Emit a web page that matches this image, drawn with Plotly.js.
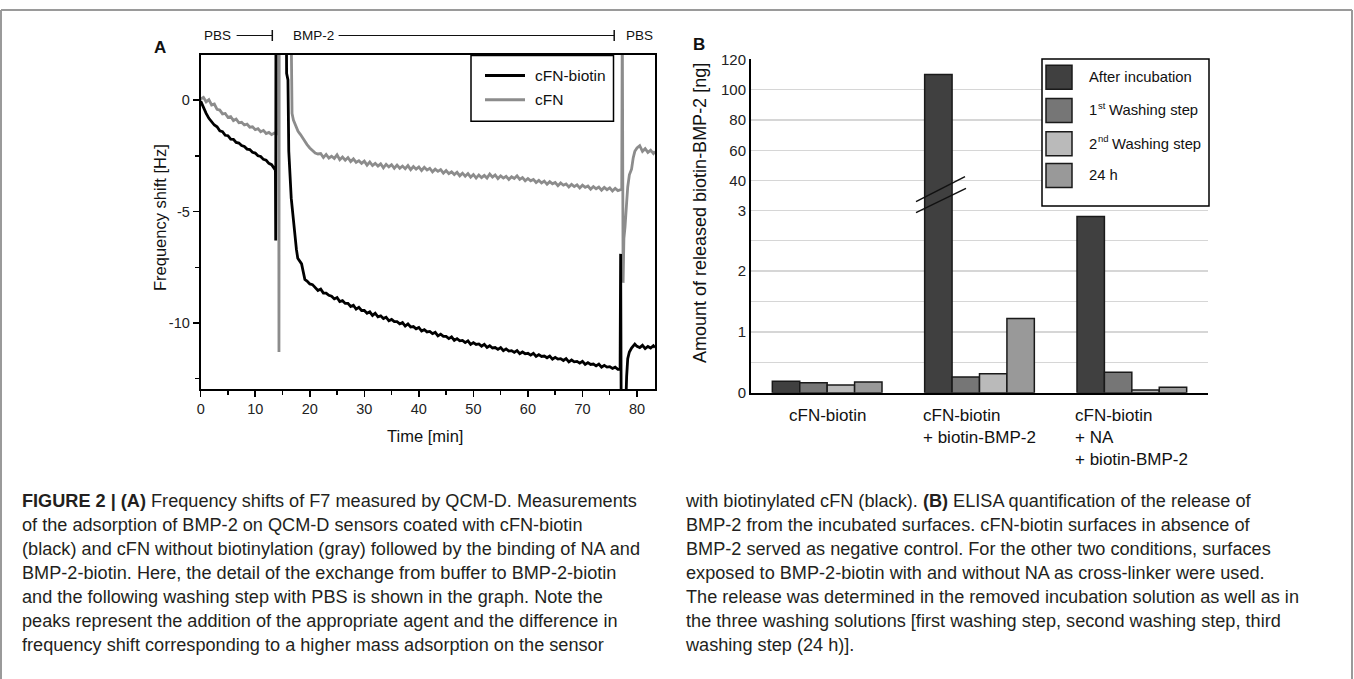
<!DOCTYPE html>
<html>
<head>
<meta charset="utf-8">
<script src="https://cdn.plot.ly/plotly-3.0.1.min.js"></script>
<style>
  html, body { margin: 0; padding: 0; background: #fff; }
  #wrap { position: relative; width: 1354px; height: 679px; overflow: hidden; }
  #chart { position: absolute; left: 0; top: 0; width: 1354px; height: 679px; }
  .cap { position: absolute; font-family: "Liberation Sans", Arial, sans-serif; font-size: 17.5px;
         line-height: 24px; color: #231f20; white-space: nowrap; transform-origin: 0 0; }
</style>
</head>
<body>
<div id="wrap">
  <div id="chart"></div>
  <div class="cap" id="capL"></div>
  <div class="cap" id="capR"></div>
</div>
<script>
// ---------------- Panel A data (QCM-D frequency shift, F7) ----------------
const grayT = [0,0.5,1,1.5,2,2.5,3,3.5,4,4.5,5,5.5,6,6.5,7,7.5,8,8.5,9,9.5,10,10.5,11,11.5,12,12.5,13,13.5,14.1,
  14.25,14.3,14.35,14.4,16.55,16.65,16.75,17,17.4,17.85,18.3,18.7,19.1,19.5,20,20.5,21,21.5,
  22,22.5,23,23.5,24,24.5,25,25.5,26,26.5,27,27.5,28,28.5,29,29.5,30,30.5,31,31.5,32,32.5,33,33.5,34,34.5,35,35.5,
  36,36.5,37,37.5,38,38.5,39,39.5,40,40.5,41,41.5,42,42.5,43,43.5,44,44.5,45,45.5,46,46.5,47,47.5,48,48.5,49,49.5,
  50,50.5,51,51.5,52,52.5,53,53.5,54,54.5,55,55.5,56,56.5,57,57.5,58,58.5,59,59.5,60,60.5,61,61.5,62,62.5,63,63.5,
  64,64.5,65,65.5,66,66.5,67,67.5,68,68.5,69,69.5,70,70.5,71,71.5,72,72.5,73,73.5,74,74.5,75,75.5,76,76.5,77,
  77.2,77.3,77.45,77.6,77.8,78.1,78.3,78.6,79,79.3,79.6,80,80.5,81,81.5,82,82.5,83,83.3];
const grayF = [0.05,0.12,-0.08,0.02,-0.22,-0.18,-0.42,-0.45,-0.62,-0.6,-0.78,-0.74,-0.92,-0.85,-1.02,-1.0,-1.12,-1.08,-1.22,-1.2,-1.33,-1.28,-1.42,-1.36,-1.5,-1.45,-1.55,-1.48,-1.52,
  -1.5,4,-11.3,4,4,0.4,-0.6,-0.9,-1.15,-1.4,-1.55,-1.72,-1.85,-2.0,-2.15,-2.25,-2.38,-2.42,
  -2.4,-2.58,-2.44,-2.6,-2.52,-2.62,-2.46,-2.68,-2.56,-2.7,-2.58,-2.76,-2.64,-2.8,-2.72,-2.84,-2.74,-2.92,-2.78,-2.94,-2.84,-2.96,-2.86,-3.04,-2.88,-3.0,-2.9,-3.06,
  -2.92,-3.06,-2.96,-3.08,-2.94,-3.12,-2.98,-3.1,-3.0,-3.16,-3.02,-3.14,-3.06,-3.22,-3.1,-3.2,-3.12,-3.28,-3.16,-3.3,-3.22,-3.34,-3.24,-3.4,-3.28,-3.42,-3.3,-3.46,
  -3.34,-3.5,-3.36,-3.48,-3.38,-3.5,-3.32,-3.46,-3.36,-3.52,-3.4,-3.5,-3.42,-3.56,-3.44,-3.52,-3.4,-3.56,-3.48,-3.62,-3.52,-3.62,-3.56,-3.7,-3.6,-3.72,-3.64,-3.78,
  -3.66,-3.76,-3.7,-3.84,-3.72,-3.82,-3.76,-3.9,-3.78,-3.88,-3.8,-3.94,-3.82,-3.92,-3.86,-4.0,-3.88,-3.98,-3.9,-4.04,-3.92,-4.02,-3.94,-4.08,-3.96,-4.06,-4.0,
  -4.0,4,-8.2,-6.2,-5.7,-4.6,-3.9,-3.35,-3.1,-2.6,-2.3,-2.15,-2.05,-2.3,-2.18,-2.35,-2.25,-2.4,-2.3];

const blackT = [0,0.5,1,1.5,2,2.5,3,3.5,4,4.5,5,5.5,6,6.5,7,7.5,8,8.5,9,9.5,10,10.5,11,11.5,12,12.5,13,13.5,
  13.7,13.75,13.8,15.7,15.75,16,16.1,16.15,16.6,17.1,17.55,17.8,18.2,18.5,18.8,19.1,19.5,20,20.5,
  21,21.5,22,22.5,23,23.5,24,24.5,25,25.5,26,26.5,27,27.5,28,28.5,29,29.5,30,30.5,31,31.5,32,32.5,33,33.5,34,34.5,
  35,35.5,36,36.5,37,37.5,38,38.5,39,39.5,40,40.5,41,41.5,42,42.5,43,43.5,44,44.5,45,45.5,46,46.5,47,47.5,48,48.5,
  49,49.5,50,50.5,51,51.5,52,52.5,53,53.5,54,54.5,55,55.5,56,56.5,57,57.5,58,58.5,59,59.5,60,60.5,61,61.5,62,62.5,
  63,63.5,64,64.5,65,65.5,66,66.5,67,67.5,68,68.5,69,69.5,70,70.5,71,71.5,72,72.5,73,73.5,74,74.5,75,75.5,76,76.5,
  76.9,77.0,77.1,77.9,78.1,78.3,78.6,79,79.6,80,80.5,81,81.5,82,82.5,83,83.3];
const blackF = [-0.05,-0.35,-0.6,-0.82,-0.95,-1.12,-1.2,-1.38,-1.42,-1.58,-1.6,-1.75,-1.76,-1.9,-1.93,-2.04,-2.08,-2.2,-2.22,-2.34,-2.38,-2.5,-2.53,-2.66,-2.7,-2.84,-2.9,-3.05,
  -3.15,-6.3,4,4,1.2,0.9,-0.9,-2.3,-4.4,-5.8,-6.7,-7.1,-7.25,-7.35,-7.7,-8.05,-8.12,-8.25,-8.28,
  -8.4,-8.54,-8.48,-8.66,-8.66,-8.76,-8.8,-8.92,-8.86,-9.04,-9.0,-9.12,-9.12,-9.26,-9.2,-9.38,-9.3,-9.44,-9.44,-9.56,-9.5,-9.66,-9.56,-9.72,-9.68,-9.8,-9.74,-9.9,
  -9.84,-9.94,-9.94,-10.04,-9.98,-10.14,-10.04,-10.18,-10.16,-10.26,-10.2,-10.36,-10.3,-10.4,-10.38,-10.48,-10.42,-10.58,-10.5,-10.6,-10.6,-10.7,-10.62,-10.78,-10.7,-10.8,-10.78,-10.88,
  -10.8,-10.96,-10.88,-10.96,-10.94,-11.04,-10.96,-11.1,-11.02,-11.12,-11.1,-11.18,-11.1,-11.24,-11.16,-11.26,-11.24,-11.32,-11.24,-11.38,-11.3,-11.38,-11.36,-11.44,-11.36,-11.5,-11.42,-11.5,
  -11.48,-11.56,-11.48,-11.62,-11.54,-11.62,-11.6,-11.68,-11.6,-11.74,-11.66,-11.74,-11.72,-11.8,-11.72,-11.86,-11.78,-11.86,-11.84,-11.92,-11.84,-11.98,-11.9,-11.98,-11.96,-12.04,-11.98,-12.08,
  -12.08,-6.9,-14,-14,-12.4,-11.6,-11.3,-11.12,-10.95,-11.05,-11.1,-11.0,-11.15,-11.05,-11.12,-11.02,-11.1];

const xTickVals = [0,10,20,30,40,50,60,70,80];
const yTickVals = [0,-5,-10];
const yTickText = ['0','-5','-10'];
const lineNames = ['cFN-biotin','cFN'];
const phaseLabels = ['PBS','BMP-2','PBS'];

// ---------------- Panel B data (ELISA, released biotin-BMP-2 [ng]) ----------------
const categories = ['cFN-biotin','cFN-biotin + biotin-BMP-2','cFN-biotin + NA + biotin-BMP-2'];
const categoryLines = [['cFN-biotin'],['cFN-biotin','+ biotin-BMP-2'],['cFN-biotin','+ NA','+ biotin-BMP-2']];
const seriesNames = ['After incubation','1st Washing step','2nd Washing step','24 h'];
// legend label pieces: [main, superscript, rest]
const legendParts = [['After incubation','',''],['1','st','Washing step'],['2','nd','Washing step'],['24 h','','']];
const afterIncubation = [0.19, 110, 2.9];
const washing1 = [0.165, 0.26, 0.335];
const washing2 = [0.127, 0.31, 0.045];
const after24h = [0.176, 1.22, 0.09];
const lowTickVals = [0,1,2,3];
const lowMinorGrid = [0.5,1.5,2.5];
const highTickVals = [40,60,80,100,120];

const captionLeft = [
  '<b>FIGURE 2 | (A)</b> Frequency shifts of F7 measured by QCM-D. Measurements',
  'of the adsorption of BMP-2 on QCM-D sensors coated with cFN-biotin',
  '(black) and cFN without biotinylation (gray) followed by the binding of NA and',
  'BMP-2-biotin. Here, the detail of the exchange from buffer to BMP-2-biotin',
  'and the following washing step with PBS is shown in the graph. Note the',
  'peaks represent the addition of the appropriate agent and the difference in',
  'frequency shift corresponding to a higher mass adsorption on the sensor'];
const captionRight = [
  'with biotinylated cFN (black). <b>(B)</b> ELISA quantification of the release of',
  'BMP-2 from the incubated surfaces. cFN-biotin surfaces in absence of',
  'BMP-2 served as negative control. For the other two conditions, surfaces',
  'exposed to BMP-2-biotin with and without NA as cross-linker were used.',
  'The release was determined in the removed incubation solution as well as in',
  'the three washing solutions [first washing step, second washing step, third',
  'washing step (24 h)].'];

// ---------------- styling ----------------
const W = 1354, H = 679;
const X = v => v / W;
const Y = v => 1 - v / H;
const FONT = 'Liberation Sans, Arial, sans-serif';
const lineColors = ['#000000', '#8c8c8c'];
const barColors = ['#404040', '#767676', '#bababa', '#999999'];
const barSeries = [afterIncubation, washing1, washing2, after24h];

const ctx = document.createElement('canvas').getContext('2d');
function textW(t, size) { ctx.font = size + 'px "Liberation Sans", Arial, sans-serif'; return ctx.measureText(t).width; }

const traces = [];
traces.push({x: grayT, y: grayF, type: 'scatter', mode: 'lines', name: lineNames[1],
  line: {color: lineColors[1], width: 2.8}, xaxis: 'x', yaxis: 'y', showlegend: false});
traces.push({x: blackT, y: blackF, type: 'scatter', mode: 'lines', name: lineNames[0],
  line: {color: lineColors[0], width: 2.8}, xaxis: 'x', yaxis: 'y', showlegend: false});
['y2','y3'].forEach(ya => {
  barSeries.forEach((vals, i) => {
    traces.push({x: categories, y: vals, type: 'bar', name: seriesNames[i], xaxis: 'x2', yaxis: ya,
      marker: {color: barColors[i], line: {color: '#1a1a1a', width: 1.5}}, showlegend: false,
      hoverinfo: 'skip'});
  });
});

const shapes = [];
const annotations = [];
function pline(x0, y0, x1, y1, color, width) {
  shapes.push({type: 'line', xref: 'paper', yref: 'paper', x0: X(x0), y0: Y(y0), x1: X(x1), y1: Y(y1),
    line: {color: color, width: width}, layer: 'above'});
}
function prect(x0, y0, x1, y1, fill, lc, lw) {
  shapes.push({type: 'rect', xref: 'paper', yref: 'paper', x0: X(x0), y0: Y(y0), x1: X(x1), y1: Y(y1),
    fillcolor: fill, line: {color: lc, width: lw}, layer: 'above'});
}
function ptext(text, x, y, size, opts) {
  annotations.push(Object.assign({text: text, xref: 'paper', yref: 'paper', x: X(x), y: Y(y),
    showarrow: false, xanchor: 'center', yanchor: 'middle', font: {family: FONT, size: size, color: '#111'}}, opts || {}));
}

// frame
pline(1, 10, 1352, 10, '#9a9a9a', 2);
pline(1, 10, 1, 679, '#9a9a9a', 2);
pline(1352, 10, 1352, 679, '#9a9a9a', 2);

// panel letters
ptext('<b>A</b>', 160, 48, 17);
ptext('<b>B</b>', 699, 45, 17);

// Panel A phase header
ptext(phaseLabels[0], 202, 35.5, 13.5, {xanchor: 'left'});
pline(236.6, 35.5, 272.3, 35.5, '#111', 1.2);
pline(272.3, 30, 272.3, 41, '#111', 1.5);
ptext(phaseLabels[1], 291, 35.5, 13.5, {xanchor: 'left'});
pline(338.6, 35.5, 614.2, 35.5, '#111', 1.2);
pline(614.2, 30, 614.2, 41, '#111', 1.5);
ptext(phaseLabels[2], 624, 35.5, 13.5, {xanchor: 'left'});

// Panel A axis titles
ptext('Frequency shift [Hz]', 160, 218, 16.5, {textangle: -90});
ptext('Time [min]', 425, 436, 16.5);

// Panel A legend
prect(471, 55.5, 613.5, 121.3, '#ffffff', '#000', 1.5);
pline(485, 75.6, 525, 75.6, lineColors[0], 3);
pline(485, 99.7, 525, 99.7, lineColors[1], 3);
ptext(lineNames[0], 533, 75.6, 15.5, {xanchor: 'left'});
ptext(lineNames[1], 533, 99.7, 15.5, {xanchor: 'left'});

// Panel B axis title
ptext('Amount of released biotin-BMP-2 [ng]', 700, 213, 18, {textangle: -90});

// Panel B axis break marks
pline(916, 201.7, 965, 176.7, '#111', 1.5);
pline(916, 212.7, 966, 188.3, '#111', 1.5);

// Panel B legend
prect(1042, 59, 1209, 206, '#ffffff', '#000', 1.5);
const rowY = [77.2, 110.5, 143.8, 175.5];
const LFS = 14.8, SFS = 9.5;
legendParts.forEach((p, i) => {
  prect(1046, rowY[i] - 12, 1072, rowY[i] + 12, barColors[i], '#1a1a1a', 1.5);
  let x = 1087;
  ptext(p[0], x, rowY[i], LFS, {xanchor: 'left'});
  if (p[1]) {
    x += textW(p[0], LFS) + 0.5;
    ptext(p[1], x, rowY[i] - 5, SFS, {xanchor: 'left'});
    x += textW(p[1], SFS) + textW(' ', LFS);
    ptext(p[2], x, rowY[i], LFS, {xanchor: 'left'});
  }
});

// Panel B category labels
categories.forEach((c, i) => {
  annotations.push({text: categoryLines[i].join('<br>'), xref: 'x2', yref: 'paper', x: c, y: Y(404),
    xanchor: 'center', yanchor: 'top', align: 'left', showarrow: false,
    font: {family: FONT, size: 17, color: '#111'}});
});

const axisLine = {showline: true, linecolor: '#000', linewidth: 2, zeroline: false, fixedrange: true};
const layout = {
  width: W, height: H, margin: {l: 0, r: 0, t: 0, b: 0},
  paper_bgcolor: '#ffffff', plot_bgcolor: 'rgba(0,0,0,0)', showlegend: false,
  font: {family: FONT, color: '#111'},
  barmode: 'group', bargap: 0.28, bargroupgap: 0,
  xaxis: Object.assign({}, axisLine, {domain: [X(200.7), X(655)], anchor: 'y', range: [0, 83.3], mirror: true,
    ticks: 'outside', ticklen: 6, tickwidth: 1.5, tickcolor: '#000', tickvals: xTickVals, showgrid: false,
    tickfont: {family: FONT, size: 14.5, color: '#222'},
    minor: {ticks: 'outside', ticklen: 3.5, tickwidth: 1.5, tickcolor: '#000', tickvals: [5,15,25,35,45,55,65,75], showgrid: false}}),
  yaxis: Object.assign({}, axisLine, {domain: [Y(389), Y(55)], anchor: 'x', range: [-12.96, 2.02], mirror: true,
    ticks: 'outside', ticklen: 6, tickwidth: 1.5, tickcolor: '#000', tickvals: yTickVals, ticktext: yTickText, showgrid: false,
    tickfont: {family: FONT, size: 14.5, color: '#222'},
    minor: {ticks: 'outside', ticklen: 3.5, tickwidth: 1.5, tickcolor: '#000', tickvals: [-2.5,-7.5,-12.5], showgrid: false}}),
  xaxis2: Object.assign({}, axisLine, {domain: [X(751), X(1208)], anchor: 'y2', type: 'category',
    showticklabels: false, ticks: '', showgrid: false}),
  yaxis2: Object.assign({}, axisLine, {domain: [Y(392.7), Y(195)], anchor: 'x2', range: [0, 3.252],
    tickvals: lowTickVals, ticks: '', showgrid: true, gridcolor: '#d6d6d6', gridwidth: 1.5,
    minor: {tickvals: lowMinorGrid, showgrid: true, gridcolor: '#d6d6d6', gridwidth: 1.5, ticks: ''},
    tickfont: {family: FONT, size: 15, color: '#222'}}),
  yaxis3: Object.assign({}, axisLine, {domain: [Y(195), Y(58.8)], anchor: 'x2', range: [30.58, 120.33],
    tickvals: highTickVals, ticks: '', showgrid: true, gridcolor: '#d6d6d6', gridwidth: 1.5,
    tickfont: {family: FONT, size: 15, color: '#222'}}),
  shapes: shapes, annotations: annotations
};

Plotly.newPlot('chart', traces, layout, {staticPlot: true, displayModeBar: false});

// caption (real text), fitted to the reference line widths
function fillCaption(id, lines, left, top) {
  const el = document.getElementById(id);
  el.innerHTML = lines.map(l => '<div>' + l + '</div>').join('');
  el.style.left = left + 'px';
  el.style.top = top + 'px';
  return el;
}
const capL = fillCaption('capL', captionLeft, 22, 489);
const capR = fillCaption('capR', captionRight, 686, 489);
const w1 = capL.firstChild.getBoundingClientRect().width;
const s = 618 / w1;
capL.style.transform = 'scaleX(' + s + ')';
capR.style.transform = 'scaleX(' + s + ')';
</script>
</body>
</html>
